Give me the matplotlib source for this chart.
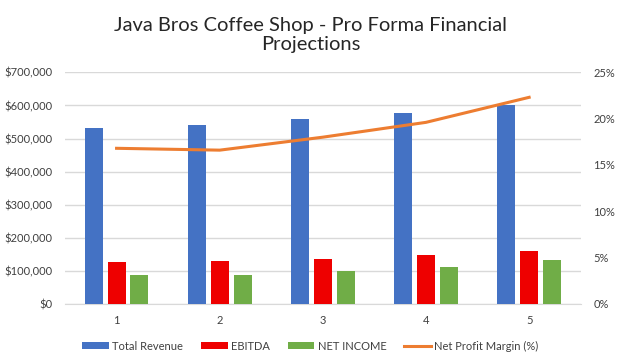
import matplotlib
matplotlib.use("Agg")
import matplotlib.pyplot as plt
import numpy as np
from matplotlib.ticker import FuncFormatter

years = ["1", "2", "3", "4", "5"]
total_revenue = [532000, 541000, 559000, 577000, 601000]
ebitda = [127000, 130000, 136000, 148000, 160000]
net_income = [88000, 88000, 100000, 112000, 133000]
net_margin = [16.8, 16.6, 18.0, 19.6, 22.3]

plt.rcParams['font.family'] = ['Lato', 'DejaVu Sans']
txt = '#404040'

fig = plt.figure(figsize=(6.21, 3.64), dpi=100)
ax = fig.add_axes([65/621, 60/364, (580.7-65)/621, (304-72.3)/364])
x = np.arange(len(years))
w = 0.175
off = 0.222
ax.bar(x - off, total_revenue, w, color='#4472C4', label='Total Revenue', zorder=3)
ax.bar(x, ebitda, w, color='#EE0000', label='EBITDA', zorder=3)
ax.bar(x + off, net_income, w, color='#70AD47', label='NET INCOME', zorder=3)
ax.set_xlim(-0.5, len(years) - 0.5)
ax.set_ylim(0, 700000)
ax.set_yticks(np.arange(0, 700001, 100000))
ax.yaxis.set_major_formatter(FuncFormatter(lambda v, p: f"${v:,.0f}"))
ax.set_xticks(x)
ax.set_xticklabels(years)
ax.grid(axis='y', color='#D9D9D9', linewidth=1, zorder=0)
for s in ['top', 'right', 'left']:
    ax.spines[s].set_visible(False)
ax.spines['bottom'].set_color('#D9D9D9')
ax.tick_params(axis='both', length=0, labelsize=8, colors=txt)
ax.tick_params(axis='x', pad=8)
ax.tick_params(axis='y', pad=9)

ax2 = ax.twinx()
ax2.plot(x, net_margin, color='#ED7D31', linewidth=2.2, label='Net Profit Margin (%)', zorder=4)
ax2.set_ylim(0, 25)
ax2.set_yticks(np.arange(0, 26, 5))
ax2.yaxis.set_major_formatter(FuncFormatter(lambda v, p: f"{v:.0f}%"))
for s in ['top', 'right', 'left', 'bottom']:
    ax2.spines[s].set_visible(False)
ax2.tick_params(axis='y', length=0, labelsize=8, colors=txt, pad=9)

h1, l1 = ax.get_legend_handles_labels()
h2, l2 = ax2.get_legend_handles_labels()
fig.legend(h1 + h2, l1 + l2, loc='center', bbox_to_anchor=(0.5, 1 - 346/364), ncol=4,
           frameon=False, fontsize=8, labelcolor=txt, handlelength=2.4, handleheight=0.6,
           columnspacing=1.6, handletextpad=0.3)

fig.text(0.5, 1 - 35/364, "Java Bros Coffee Shop - Pro Forma Financial\nProjections",
         ha='center', va='center', fontsize=14.5, color='#262626', fontweight='normal',
         linespacing=1.2)

fig.savefig('out.png', dpi=100)
